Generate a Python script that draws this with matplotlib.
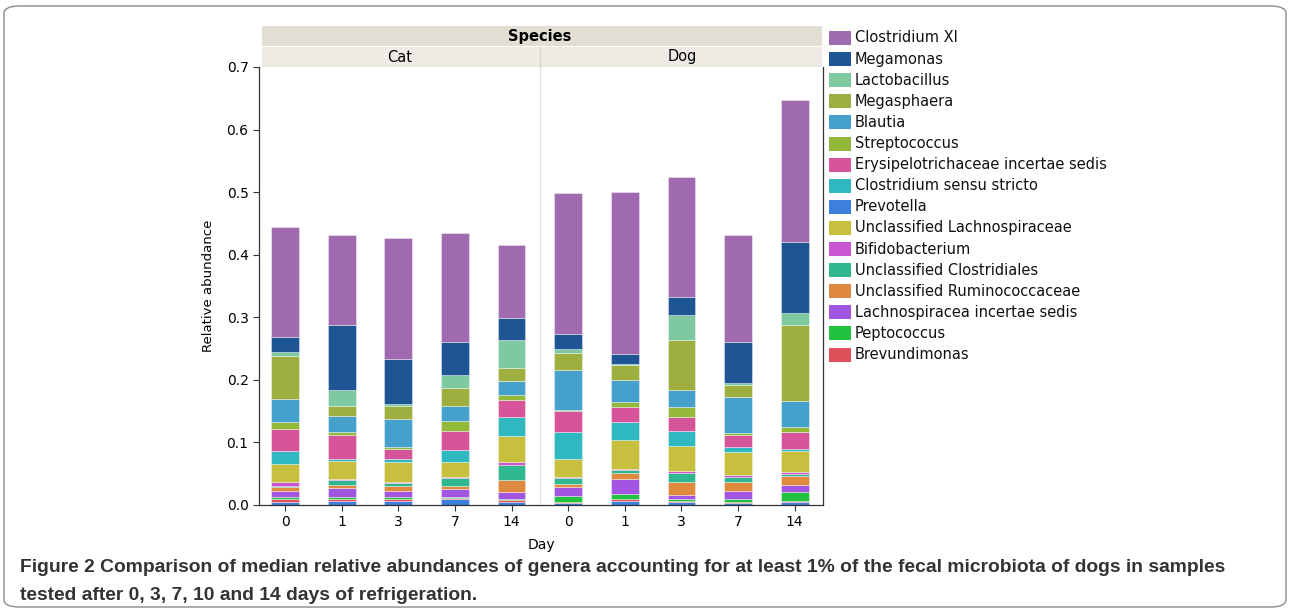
import numpy as np
import matplotlib
matplotlib.use('Agg')
import matplotlib.pyplot as plt
from matplotlib.patches import Rectangle, FancyBboxPatch

# --- data: median relative abundance per genus (Cat days, then Dog days) ---
species = ['Cat', 'Dog']
days = ['0', '1', '3', '7', '14']

genera = ['Clostridium XI', 'Megamonas', 'Lactobacillus', 'Megasphaera', 'Blautia',
          'Streptococcus', 'Erysipelotrichaceae incertae sedis', 'Clostridium sensu stricto',
          'Prevotella', 'Unclassified Lachnospiraceae', 'Bifidobacterium',
          'Unclassified Clostridiales', 'Unclassified Ruminococcaceae',
          'Lachnospiracea incertae sedis', 'Peptococcus', 'Brevundimonas']
colors = ['#a06ab0', '#1e5594', '#7ec9a0', '#9eaf3f', '#45a0cc',
          '#93b83a', '#d6549a', '#2fb8bf',
          '#3d7fdc', '#c9bf3e', '#c956d0',
          '#2fb88f', '#e08a40',
          '#a155e0', '#22c240', '#e0505a']

#                     Cat 0   1      3      7      14     Dog 0  1      3      7      14
clostridium_xi    = [0.176, 0.144, 0.192, 0.173, 0.117, 0.225, 0.260, 0.192, 0.170, 0.227]
megamonas         = [0.024, 0.105, 0.072, 0.054, 0.036, 0.024, 0.015, 0.029, 0.066, 0.113]
lactobacillus     = [0.007, 0.024, 0.003, 0.020, 0.044, 0.007, 0.003, 0.040, 0.003, 0.019]
megasphaera       = [0.068, 0.017, 0.021, 0.028, 0.021, 0.028, 0.023, 0.079, 0.019, 0.121]
blautia           = [0.037, 0.026, 0.046, 0.025, 0.022, 0.063, 0.036, 0.028, 0.058, 0.042]
streptococcus     = [0.011, 0.004, 0.003, 0.016, 0.008, 0.002, 0.007, 0.015, 0.003, 0.008]
erysipelotrich    = [0.036, 0.039, 0.016, 0.030, 0.027, 0.034, 0.025, 0.022, 0.019, 0.028]
clostridium_ss    = [0.020, 0.002, 0.004, 0.020, 0.030, 0.042, 0.028, 0.024, 0.009, 0.003]
prevotella        = [0.005, 0.007, 0.006, 0.010, 0.005, 0.003, 0.006, 0.004, 0.003, 0.005]
unc_lachno        = [0.029, 0.030, 0.032, 0.024, 0.043, 0.030, 0.046, 0.041, 0.036, 0.034]
bifidobacterium   = [0.006, 0.001, 0.002, 0.001, 0.004, 0.001, 0.002, 0.003, 0.003, 0.003]
unc_clostridiales = [0.003, 0.008, 0.005, 0.012, 0.024, 0.009, 0.005, 0.015, 0.009, 0.003]
unc_ruminococc    = [0.005, 0.005, 0.007, 0.006, 0.020, 0.005, 0.010, 0.020, 0.014, 0.014]
lachno_is         = [0.011, 0.015, 0.011, 0.012, 0.010, 0.015, 0.024, 0.007, 0.012, 0.012]
peptococcus       = [0.003, 0.003, 0.003, 0.002, 0.002, 0.009, 0.008, 0.003, 0.006, 0.013]
brevundimonas     = [0.004, 0.002, 0.003, 0.001, 0.003, 0.002, 0.003, 0.002, 0.001, 0.002]

values = [clostridium_xi, megamonas, lactobacillus, megasphaera, blautia,
          streptococcus, erysipelotrich, clostridium_ss, prevotella, unc_lachno,
          bifidobacterium, unc_clostridiales, unc_ruminococc, lachno_is,
          peptococcus, brevundimonas]

# stacking order from the bottom
stack_order = ['Prevotella', 'Brevundimonas', 'Peptococcus', 'Lachnospiracea incertae sedis',
               'Unclassified Ruminococcaceae', 'Unclassified Clostridiales', 'Bifidobacterium',
               'Unclassified Lachnospiraceae', 'Clostridium sensu stricto',
               'Erysipelotrichaceae incertae sedis', 'Streptococcus', 'Blautia',
               'Megasphaera', 'Lactobacillus', 'Megamonas', 'Clostridium XI']

W, H = 1290, 613
fig = plt.figure(figsize=(W / 100, H / 100), dpi=100)
plt.rcParams['font.family'] = ['DejaVu Sans']

def fx(px): return px / W
def fy(py): return 1 - py / H

ax = fig.add_axes([fx(259), fy(505), fx(823) - fx(259), fy(67) - fy(505)])
x = np.arange(len(species) * len(days))
bottom = np.zeros(len(x))
for name in stack_order:
    i = genera.index(name)
    v = np.array(values[i])
    ax.bar(x, v, 0.49, bottom=bottom, color=colors[i],
           edgecolor=(1, 1, 1, 0.45), linewidth=0.6)
    bottom += v

ax.set_xlim(-0.46, 9.5)
ax.set_ylim(0, 0.7)
ax.set_yticks(np.arange(0, 0.71, 0.1))
ax.set_yticklabels([f'{t:.1f}' for t in np.arange(0, 0.71, 0.1)], fontsize=10)
ax.set_xticks(x)
ax.set_xticklabels(days * len(species), fontsize=10)
ax.tick_params(axis='both', direction='out', length=4, width=0.8, color='#333333')
ax.spines['top'].set_visible(False)
for s in ['left', 'bottom', 'right']:
    ax.spines[s].set_color('#333333')
    ax.spines[s].set_linewidth(0.9)
ax.axvline(4.5, color='#e4e4e4', lw=1.0, zorder=0)
ax.set_ylabel('Relative abundance', fontsize=9.5, labelpad=8)
ax.set_xlabel('Day', fontsize=10, labelpad=6)

# facet strips
fig.patches.append(Rectangle((fx(262), fy(46)), fx(822) - fx(262), fy(26) - fy(46),
                             transform=fig.transFigure, facecolor='#e1ded4', edgecolor='none'))
fig.patches.append(Rectangle((fx(262), fy(67)), fx(822) - fx(262), fy(47) - fy(67),
                             transform=fig.transFigure, facecolor='#edebe4', edgecolor='none'))
fig.add_artist(plt.Line2D([fx(540), fx(540)], [fy(67), fy(47)], color='#d8d6cf', lw=1))
fig.text(fx(540), fy(36), 'Species', ha='center', va='center', fontsize=10.5, fontweight='bold')
fig.text(fx(400), fy(57), species[0], ha='center', va='center', fontsize=10.5)
fig.text(fx(682), fy(57), species[1], ha='center', va='center', fontsize=10.5)

# legend
for k, (name, c) in enumerate(zip(genera, colors)):
    yc = 38 + k * 21.1
    fig.patches.append(Rectangle((fx(829), fy(yc + 7)), fx(22), 14 / H,
                                 transform=fig.transFigure, facecolor=c, edgecolor='none'))
    fig.text(fx(855), fy(yc), name, ha='left', va='center', fontsize=10.5, color='#111111')

# caption
cap1 = ('Figure 2 Comparison of median relative abundances of genera accounting for at least '
        '1% of the fecal microbiota of dogs in samples')
cap2 = 'tested after 0, 3, 7, 10 and 14 days of refrigeration.'
fig.text(fx(20), fy(567), cap1, ha='left', va='center', fontsize=13.9, fontweight='bold',
         color='#333333', family='Liberation Sans')
fig.text(fx(20), fy(595), cap2, ha='left', va='center', fontsize=13.9, fontweight='bold',
         color='#333333', family='Liberation Sans')

# outer rounded frame
fig.patches.append(FancyBboxPatch((fx(4), fy(607)), fx(1282), 601 / H,
                                  boxstyle='round,pad=0,rounding_size=0.012',
                                  transform=fig.transFigure, facecolor='none',
                                  edgecolor='#8a8a8a', lw=1.0))

fig.savefig('out.png', dpi=100)
